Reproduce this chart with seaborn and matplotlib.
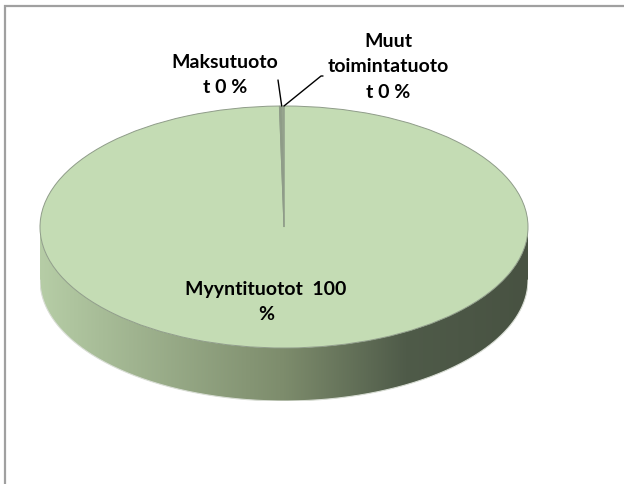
import matplotlib
matplotlib.use("Agg")
import matplotlib.pyplot as plt
import seaborn as sns
import numpy as np
from matplotlib.patches import Rectangle, Polygon
from matplotlib.colors import LinearSegmentedColormap

# data (the two small slices show as "0 %")
categories = ["Myyntituotot", "Maksutuotot", "Muut toimintatuotot"]
values = [99.7, 0.15, 0.15]
labels = ["Myyntituotot  100\n%", "Maksutuoto\nt 0 %", "Muut\ntoimintatuoto\nt 0 %"]
colors = ["#c4dcb4", "#8e9c86", "#9aa990"]

sns.set_theme(style="white")
plt.rcParams['font.family'] = ['Lato', 'DejaVu Sans']

fig = plt.figure(figsize=(6.24, 4.84), dpi=100)
W, H = 624, 484

# pie ellipse in pixels: centre (284, 227), half axes 244 x 121, depth 53
cx, cy, a, b, depth = 284, 227, 244, 121, 53
d = depth / b
ax = fig.add_axes([(cx - a) / W, (H - (cy + b + depth)) / H, 2 * a / W, (2 * b + depth) / H])

wedges, _ = ax.pie(values, colors=colors, startangle=90, counterclock=False,
                   radius=1, wedgeprops=dict(edgecolor="#8f9c89", linewidth=0.7))
for w in wedges:
    w.set_zorder(3)
ax.set_aspect('auto')
ax.axis('off')

# side wall of the 3D pie with a left-to-right shading
t = np.linspace(np.pi, 2 * np.pi, 300)
top = np.column_stack([np.cos(t), np.sin(t)])
bot = np.column_stack([np.cos(t[::-1]), np.sin(t[::-1]) - d])
side = Polygon(np.vstack([top, bot]), closed=True, facecolor='none', edgecolor='none')
ax.add_patch(side)
shade = LinearSegmentedColormap.from_list(
    "side", [(0, "#b6cda6"), (0.12, "#a8bd98"), (0.5, "#7d8c6c"), (0.75, "#4f5b49"), (1, "#485242")])
img = ax.imshow(np.linspace(0, 1, 256)[None, :], cmap=shade, aspect='auto',
                extent=[-1, 1, -1 - d, 0], zorder=1)
img.set_clip_path(side)
ax.plot(np.cos(t), np.sin(t) - d, color="#d8ddd4", lw=0.8, zorder=2)
ax.set_xlim(-1, 1)
ax.set_ylim(-1 - d, 1)


def px(x, y):
    return (x - cx) / a, (cy - y) / b


# labels
font = dict(fontsize=14, fontweight='bold', color='black', ha='center', va='center', linespacing=1.6)
ax.text(*px(266, 302), labels[0], **font)
ax.text(*px(225, 75), labels[1], **font)
ax.text(*px(388, 67), labels[2], **font)

# leader lines to the small slices
tip = (np.cos(np.deg2rad(wedges[1].theta1)), np.sin(np.deg2rad(wedges[1].theta1)))
ax.annotate("", xy=tip, xytext=px(278, 80),
            arrowprops=dict(arrowstyle='-', color='black', lw=1, shrinkA=0, shrinkB=0))
tip2 = (np.cos(np.deg2rad(wedges[2].theta1)), np.sin(np.deg2rad(wedges[2].theta1)))
ax.annotate("", xy=tip2, xytext=px(323, 76),
            arrowprops=dict(arrowstyle='-', color='black', lw=1, shrinkA=0, shrinkB=0,
                            connectionstyle="angle,angleA=180,angleB=39,rad=0"))

# chart area border (cut off at right and bottom)
fig.patches.append(Rectangle((5 / W, -0.1), 1.2, 1.1 - 5.5 / H, transform=fig.transFigure,
                             fill=False, edgecolor="#a0a0a0", linewidth=1.6))

fig.savefig("out.png", dpi=100)
